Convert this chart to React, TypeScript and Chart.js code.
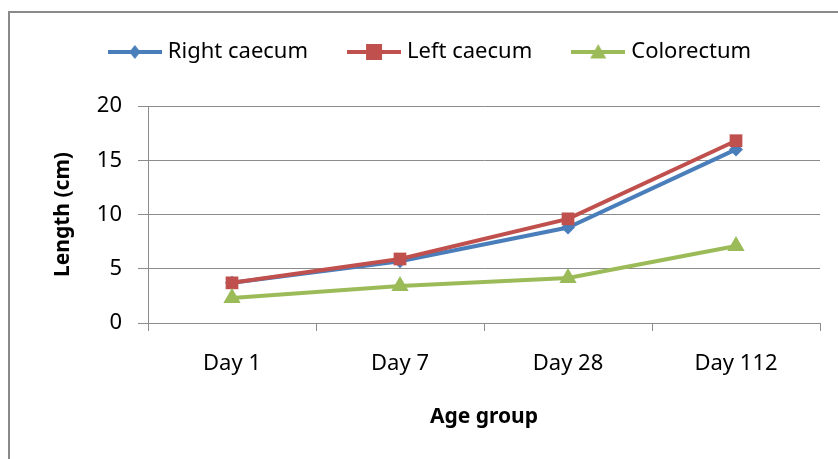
import React, { useEffect, useRef } from 'react';
import { Chart, registerables } from 'chart.js';

Chart.register(...registerables);

const categories = ['Day 1', 'Day 7', 'Day 28', 'Day 112'];
const rightCaecum = [3.7, 5.7, 8.8, 16.0];
const leftCaecum = [3.7, 5.9, 9.6, 16.8];
const colorectum = [2.3, 3.4, 4.15, 7.1];
const yTickValues = [0, 5, 10, 15, 20];

const BLUE = '#4A7EBB';
const RED = '#C0504D';
const GREEN = '#9BBB59';
const GRID = '#8C8C8C';
const FONT = "'Noto Sans', 'Open Sans', sans-serif";

function drawMarker(ctx: CanvasRenderingContext2D, kind: string, cx: number, cy: number, r: number, color: string) {
  ctx.fillStyle = color;
  ctx.beginPath();
  if (kind === 'diamond') {
    ctx.moveTo(cx, cy - r);
    ctx.lineTo(cx + r * 0.8, cy);
    ctx.lineTo(cx, cy + r);
    ctx.lineTo(cx - r * 0.8, cy);
  } else if (kind === 'square') {
    ctx.rect(cx - r, cy - r, 2 * r, 2 * r);
  } else {
    ctx.moveTo(cx, cy - r);
    ctx.lineTo(cx + r, cy + r * 0.8);
    ctx.lineTo(cx - r, cy + r * 0.8);
  }
  ctx.closePath();
  ctx.fill();
}

function legendIcon(color: string, kind: string) {
  const c = document.createElement('canvas');
  c.width = 54;
  c.height = 20;
  const ctx = c.getContext('2d')!;
  ctx.strokeStyle = color;
  ctx.lineWidth = 4;
  ctx.beginPath();
  ctx.moveTo(0, 10);
  ctx.lineTo(54, 10);
  ctx.stroke();
  drawMarker(ctx, kind, 27, 10, kind === 'diamond' ? 7 : 8, color);
  return c;
}

const legendHeightPlugin = {
  id: 'legendHeight',
  afterInit(chart: any) {
    const lg = chart.legend;
    if (!lg) return;
    const origFit = lg.fit.bind(lg);
    lg.fit = function () {
      origFit();
      this.height = 109;
    };
  },
};

export default function App() {
  const ref = useRef<HTMLCanvasElement>(null);

  useEffect(() => {
    document.body.style.margin = '0';
    const icons = [legendIcon(BLUE, 'diamond'), legendIcon(RED, 'square'), legendIcon(GREEN, 'triangle')];
    const chart = new Chart(ref.current!, {
      type: 'line',
      plugins: [legendHeightPlugin],
      data: {
        labels: categories,
        datasets: [
          {
            label: 'Right caecum',
            data: rightCaecum,
            borderColor: BLUE,
            backgroundColor: BLUE,
            borderWidth: 4,
            pointStyle: 'rectRot',
            pointRadius: 7,
            pointBorderWidth: 0,
            order: 3,
          },
          {
            label: 'Left caecum',
            data: leftCaecum,
            borderColor: RED,
            backgroundColor: RED,
            borderWidth: 4,
            pointStyle: 'rect',
            pointRadius: 9,
            pointBorderWidth: 0,
            order: 2,
          },
          {
            label: 'Colorectum',
            data: colorectum,
            borderColor: GREEN,
            backgroundColor: GREEN,
            borderWidth: 4,
            pointStyle: 'triangle',
            pointRadius: 10,
            pointBorderWidth: 0,
            order: 1,
          },
        ],
      },
      options: {
        responsive: false,
        animation: false,
        layout: { padding: { left: 44, right: 18, top: -3, bottom: 29 } },
        plugins: {
          tooltip: { enabled: false },
          legend: {
            position: 'top',
            labels: {
              usePointStyle: true,
              pointStyleWidth: 44,
              padding: 44,
              color: '#000',
              font: { family: FONT, size: 22 },
              sort: (a: any, b: any) => a.datasetIndex - b.datasetIndex,
              generateLabels: (ch: any) =>
                ch.data.datasets.map((ds: any, i: number) => ({
                  text: ds.label,
                  pointStyle: icons[i],
                  fillStyle: ds.borderColor,
                  strokeStyle: ds.borderColor,
                  lineWidth: 0,
                  hidden: false,
                  datasetIndex: i,
                  fontColor: '#000',
                })),
            },
          },
        },
        scales: {
          x: {
            offset: true,
            grid: {
              offset: true,
              drawOnChartArea: false,
              drawTicks: true,
              tickLength: 8,
              color: GRID,
            },
            border: { color: GRID, width: 1 },
            ticks: { color: '#000', font: { family: FONT, size: 22 }, padding: 20 },
            title: {
              display: true,
              text: 'Age group',
              color: '#000',
              font: { family: FONT, size: 21, weight: 'bold' },
              padding: { top: 10, bottom: 0 },
            },
            afterFit: (s: any) => {
              s.height = 107;
            },
          },
          y: {
            min: 0,
            max: 20,
            afterBuildTicks: (s: any) => {
              s.ticks = yTickValues.map((v) => ({ value: v }));
            },
            grid: { color: GRID, tickLength: 10, drawTicks: true },
            border: { color: GRID, width: 1 },
            ticks: { color: '#000', font: { family: FONT, size: 22 }, padding: 16 },
            title: {
              display: true,
              text: 'Length (cm)',
              color: '#000',
              font: { family: FONT, size: 21, weight: 'bold' },
              padding: { top: 6, bottom: 0 },
            },
            afterFit: (s: any) => {
              s.width = 104;
            },
          },
        },
      },
    });
    return () => chart.destroy();
  }, []);

  return (
    <div style={{ position: 'relative', width: 838, height: 459, overflow: 'hidden', background: '#fff' }}>
      <div
        style={{
          position: 'absolute',
          left: 8,
          top: 11,
          width: 900,
          height: 500,
          border: '2px solid #8A8A8A',
          boxSizing: 'border-box',
        }}
      />
      <canvas ref={ref} width={838} height={459} style={{ position: 'absolute', left: 0, top: 0 }} />
    </div>
  );
}
